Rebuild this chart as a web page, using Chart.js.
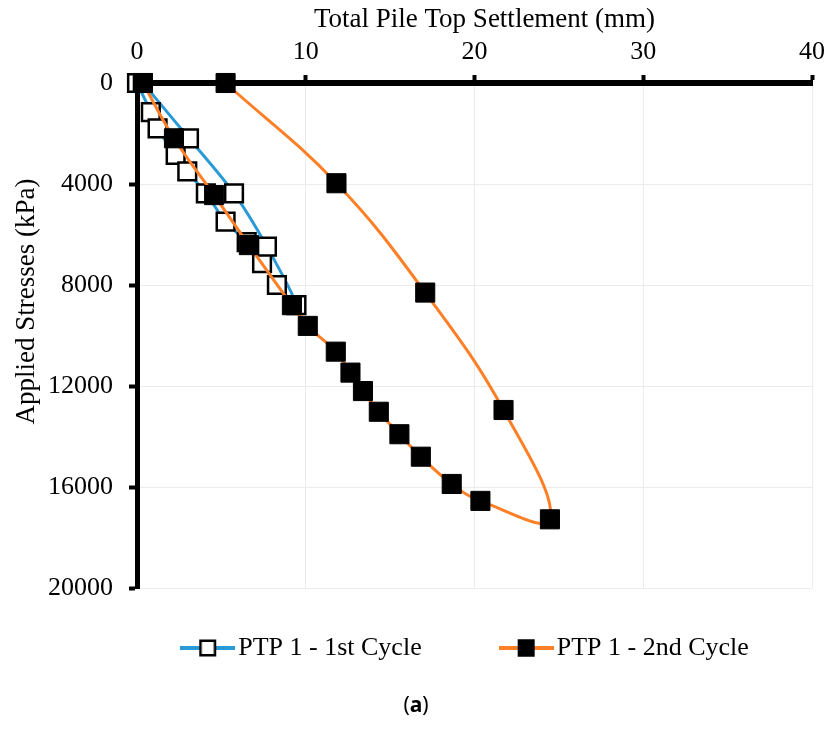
<!DOCTYPE html>
<html>
<head>
<meta charset="utf-8">
<script src="https://cdn.jsdelivr.net/npm/chart.js@4.4.1/dist/chart.umd.min.js"></script>
<style>
  html, body { margin: 0; padding: 0; background: #fff; }
  #wrap { position: relative; width: 832px; height: 742px; }
  #caption {
    position: absolute; left: 0; top: 690px; width: 832px;
    text-align: center; font: 21px "Noto Sans", sans-serif; color: #000;
  }
</style>
</head>
<body>
<div id="wrap">
  <canvas id="pileChart" width="832" height="742"></canvas>
  <div id="caption">(<b>a</b>)</div>
</div>
<script>
// PTP 1 - 1st cycle: loading, then unloading back to zero
const cycle1Settlement = [0, 0.82, 1.22, 2.29, 2.98, 4.08, 5.25, 6.5, 7.41, 8.29, 9.45, 7.7, 5.75, 3.08, 0.35];
const cycle1Stress = [0, 1150, 1800, 2850, 3500, 4370, 5490, 6300, 7140, 8000, 8800, 6480, 4370, 2190, 0];

// PTP 1 - 2nd cycle
const cycle2Settlement = [0.35, 2.19, 4.57, 6.63, 9.18, 10.12, 11.78, 12.65, 13.39, 14.33, 15.55, 16.82, 18.65, 20.35, 24.47, 21.72, 17.08, 11.82, 5.25];
const cycle2Stress = [0, 2190, 4440, 6420, 8800, 9620, 10640, 11470, 12200, 13020, 13910, 14800, 15880, 16550, 17280, 12950, 8300, 3970, 0];

const seriesLabels = ["PTP 1 - 1st Cycle", "PTP 1 - 2nd Cycle"];
const settlementTicks = [0, 10, 20, 30, 40];
const stressTicks = [0, 4000, 8000, 12000, 16000, 20000];
const xTitle = "Total Pile Top Settlement (mm)";
const yTitle = "Applied Stresses (kPa)";

const BLUE = "#2a9ad6";
const ORANGE = "#ff7f27";
const SERIF = '"Liberation Serif", "Times New Roman", serif';

function toPoints(xs, ys) {
  return xs.map((x, i) => ({ x: x, y: ys[i] }));
}

// line + square swatch used as the legend symbol
function legendMarker(lineColor, filled) {
  const c = document.createElement("canvas");
  c.width = 55;
  c.height = 22;
  const g = c.getContext("2d");
  g.strokeStyle = lineColor;
  g.lineWidth = 4;
  g.beginPath();
  g.moveTo(0, 11);
  g.lineTo(55, 11);
  g.stroke();
  g.fillStyle = filled ? "#000" : "#fff";
  g.fillRect(19, 2.5, 17, 17);
  g.strokeStyle = "#000";
  g.lineWidth = 2.5;
  g.strokeRect(20.25, 3.75, 14.5, 14.5);
  return c;
}

const legendSymbols = [legendMarker(BLUE, false), legendMarker(ORANGE, true)];

// axis titles, placed by hand around the plot area
const axisTitlePlugin = {
  id: "axisTitles",
  afterDraw(chart) {
    const { ctx, chartArea } = chart;
    ctx.save();
    ctx.font = "27px " + SERIF;
    ctx.fillStyle = "#000";
    ctx.textAlign = "center";
    ctx.textBaseline = "middle";
    ctx.fillText(xTitle, (chartArea.left + chartArea.right) / 2 + 10, 20);
    ctx.translate(27, (chartArea.top + chartArea.bottom) / 2 - 34);
    ctx.rotate(-Math.PI / 2);
    ctx.fillText(yTitle, 0, 0);
    ctx.restore();
  },
};

// move the legend row right and up from where the layout puts it
const legendShiftPlugin = {
  id: "legendShift",
  afterLayout(chart) {
    if (chart.legend) {
      chart.legend.left += 60;
      chart.legend.right += 60;
      chart.legend.top -= 40;
    }
  },
};

const ctx = document.getElementById("pileChart").getContext("2d");

new Chart(ctx, {
  type: "scatter",
  data: {
    datasets: [
      {
        label: seriesLabels[0],
        data: toPoints(cycle1Settlement, cycle1Stress),
        showLine: true,
        borderColor: BLUE,
        borderWidth: 3,
        tension: 0.3,
        pointStyle: "rect",
        pointRadius: 12.5,
        pointBackgroundColor: "#fff",
        pointBorderColor: "#000",
        pointBorderWidth: 2.5,
        clip: false,
        order: 2,
      },
      {
        label: seriesLabels[1],
        data: toPoints(cycle2Settlement, cycle2Stress),
        showLine: true,
        borderColor: ORANGE,
        borderWidth: 3,
        tension: 0.4,
        pointStyle: "rect",
        pointRadius: 13.5,
        pointBackgroundColor: "#000",
        pointBorderColor: "#000",
        pointBorderWidth: 1,
        clip: false,
        order: 1,
      },
    ],
  },
  options: {
    responsive: false,
    animation: false,
    layout: {
      padding: { left: 0, right: 13, top: 0, bottom: 31 },
    },
    plugins: {
      tooltip: { enabled: false },
      legend: {
        position: "bottom",
        labels: {
          usePointStyle: true,
          pointStyleWidth: 35,
          padding: 87,
          color: "#000",
          font: { family: SERIF, size: 26 },
          generateLabels: function (chart) {
            return chart.data.datasets.map((ds, i) => ({
              text: ds.label,
              pointStyle: legendSymbols[i],
              datasetIndex: i,
              hidden: false,
              fontColor: "#000",
              lineWidth: 0,
              strokeStyle: "transparent",
              fillStyle: "transparent",
            }));
          },
        },
      },
    },
    scales: {
      x: {
        type: "linear",
        position: "top",
        min: 0,
        max: 40,
        afterFit: (scale) => {
          scale.height = 83;
        },
        afterBuildTicks: (scale) => {
          scale.ticks = settlementTicks.map((v) => ({ value: v }));
        },
        ticks: {
          color: "#000",
          padding: 7,
          maxRotation: 0,
          font: { family: SERIF, size: 26 },
        },
        grid: {
          color: "#ebebeb",
          lineWidth: 1,
          tickColor: "#000",
          tickLength: 8,
          tickWidth: 4,
        },
        border: { color: "#000", width: 6 },
      },
      y: {
        type: "linear",
        reverse: true,
        min: 0,
        max: 20000,
        afterFit: (scale) => {
          scale.width = 137;
        },
        afterBuildTicks: (scale) => {
          scale.ticks = stressTicks.map((v) => ({ value: v }));
        },
        ticks: {
          color: "#000",
          padding: 16,
          font: { family: SERIF, size: 26 },
          callback: (value) => String(value),
        },
        grid: {
          color: "#ebebeb",
          lineWidth: 1,
          tickColor: "#000",
          tickLength: 8,
          tickWidth: 4,
        },
        border: { color: "#000", width: 5 },
      },
    },
  },
  plugins: [axisTitlePlugin, legendShiftPlugin],
});
</script>
</body>
</html>
